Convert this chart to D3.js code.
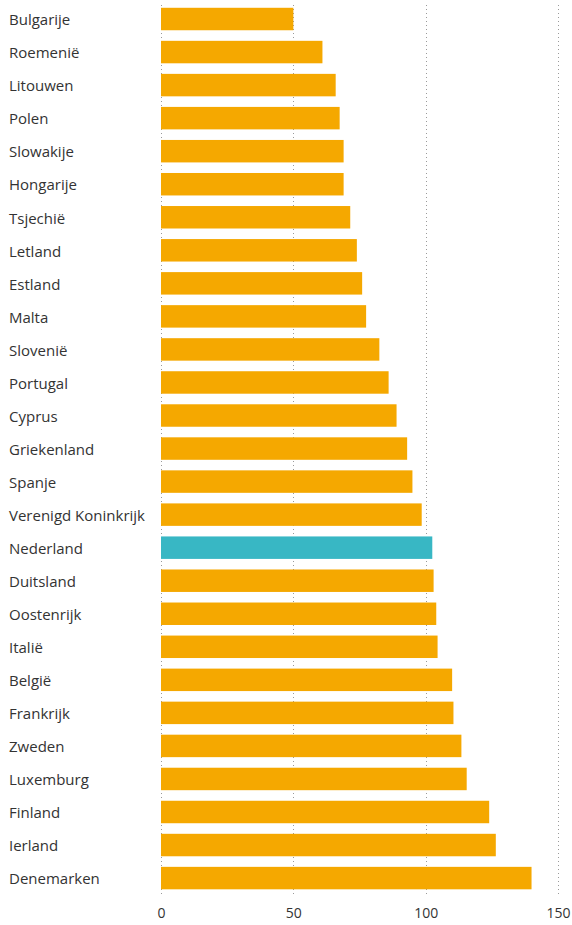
<!DOCTYPE html>
<html><head><meta charset="utf-8">
<script src="https://cdn.jsdelivr.net/npm/d3@7"></script>
<style>
body{margin:0;background:#fff;}
text{font-family:"Open Sans",sans-serif;}
</style></head>
<body><svg id="c" width="572" height="925"></svg>
<script>
const countries = ["Bulgarije","Roemenië","Litouwen","Polen","Slowakije","Hongarije","Tsjechië","Letland","Estland","Malta","Slovenië","Portugal","Cyprus","Griekenland","Spanje","Verenigd Koninkrijk","Nederland","Duitsland","Oostenrijk","Italië","België","Frankrijk","Zweden","Luxemburg","Finland","Ierland","Denemarken"];
const values = [50,61,66,67.5,69,69,71.5,74,76,77.5,82.5,86,89,93,95,98.5,102.5,103,104,104.5,110,110.5,113.5,115.5,124,126.5,140];
const highlight = ["Nederland"];
const ticks = [0,50,100,150];

const svg = d3.select("#c");
const x = d3.scaleLinear().domain([0,150]).range([161,558]);
const y = d3.scaleBand().domain(countries).range([2.5,894.6]).paddingInner(0.32).paddingOuter(0.16);

// gridlines
svg.append("g").selectAll("line").data(ticks).join("line")
  .attr("x1",d=>Math.round(x(d))+0.5).attr("x2",d=>Math.round(x(d))+0.5)
  .attr("y1",5).attr("y2",895)
  .attr("stroke","#9a9a9a").attr("stroke-width",1).attr("stroke-dasharray","1,3");

// bars
svg.append("g").selectAll("rect").data(countries).join("rect")
  .attr("x",x(0)).attr("y",d=>y(d)).attr("height",y.bandwidth())
  .attr("width",(d,i)=>x(values[i])-x(0))
  .attr("fill",d=>highlight.includes(d)?"#38b7c4":"#f5a800");

// labels
svg.append("g").selectAll("text").data(countries).join("text")
  .attr("x",9).attr("y",d=>y(d)+y.bandwidth()/2+1).attr("dy","0.35em")
  .attr("font-size",15).attr("fill","#333").text(d=>d);

// x axis
const ax = svg.append("g").attr("transform","translate(0,910)")
  .call(d3.axisBottom(x).tickValues(ticks).tickSize(0).tickPadding(0));
ax.select(".domain").remove();
ax.selectAll("text").attr("font-size",14).attr("fill","#333")
  .style("font-family","'Open Sans',sans-serif")
  .attr("dy","0.6em");
</script></body></html>
